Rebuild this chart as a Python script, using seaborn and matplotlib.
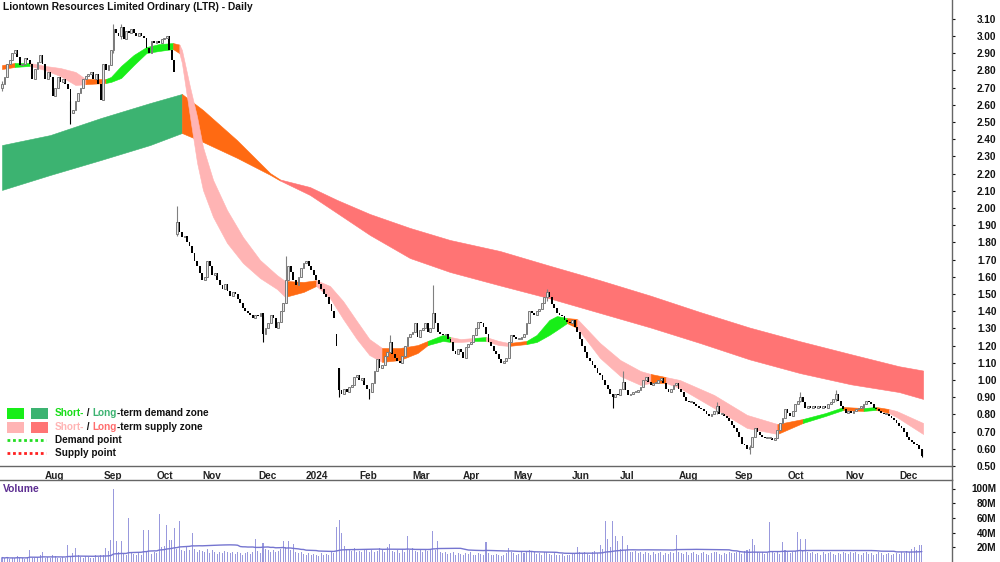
import numpy as np
import pandas as pd
import seaborn as sns
import matplotlib.pyplot as plt
from matplotlib.patches import Rectangle
from matplotlib.lines import Line2D

W, H = 1000, 562

# daily closes, one row per month, Jul 2023 .. Dec 2024
closes = [
    2.72, 2.76, 2.84, 2.86, 2.90, 2.92, 2.88, 2.83, 2.84, 2.87, 2.86, 2.84, 2.75, 2.81, 2.85, 2.89, 2.84,
    2.75, 2.79, 2.76, 2.65, 2.70, 2.76, 2.73, 2.75, 2.72, 2.69, 2.55, 2.57, 2.62, 2.67, 2.70, 2.75, 2.77, 2.78, 2.79, 2.75, 2.78, 2.72, 2.63,
    2.84, 2.80, 2.83, 2.92, 3.04, 3.02, 3.00, 3.05, 2.98, 3.03, 3.02, 3.04, 3.02, 3.00, 3.02, 3.00, 2.99, 2.93, 2.90, 2.97, 2.96,
    2.97, 2.96, 2.98, 2.99, 3.00, 2.92, 2.86, 2.79, 1.92, 1.86, 1.83, 1.84, 1.80, 1.78, 1.74, 1.69, 1.66, 1.62,
    1.58, 1.60, 1.69, 1.66, 1.61, 1.62, 1.58, 1.55, 1.53, 1.56, 1.52, 1.49, 1.51, 1.50, 1.47, 1.45, 1.42, 1.40, 1.39, 1.38, 1.36, 1.38,
    1.37, 1.39, 1.27, 1.30, 1.33, 1.38, 1.36, 1.30, 1.34, 1.40, 1.45, 1.58, 1.66, 1.63, 1.58, 1.55, 1.60, 1.65, 1.68,
    1.69, 1.66, 1.64, 1.61, 1.58, 1.56, 1.53, 1.50, 1.48, 1.44, 1.40, 1.36, 1.20, 0.94, 0.92, 0.95, 0.93, 0.96, 0.97, 1.02, 1.03,
    1.00, 1.01, 0.97, 0.95, 0.93, 0.98, 1.05, 1.12, 1.07, 1.09, 1.14, 1.16, 1.22, 1.15, 1.13, 1.11, 1.10, 1.14, 1.20, 1.25, 1.27,
    1.28, 1.33, 1.25, 1.29, 1.30, 1.33, 1.28, 1.30, 1.39, 1.33, 1.28, 1.27, 1.26, 1.27, 1.24, 1.22, 1.17, 1.15, 1.18, 1.16,
    1.13, 1.19, 1.21, 1.22, 1.26, 1.30, 1.34, 1.33, 1.31, 1.27, 1.22, 1.20, 1.17, 1.15, 1.12, 1.10, 1.11, 1.13, 1.22, 1.26,
    1.25, 1.24, 1.24, 1.25, 1.27, 1.33, 1.40, 1.39, 1.38, 1.40, 1.41, 1.45, 1.48, 1.51, 1.48, 1.44, 1.42, 1.39, 1.38, 1.37, 1.35, 1.34, 1.33,
    1.35, 1.31, 1.28, 1.24, 1.20, 1.16, 1.13, 1.11, 1.09, 1.07, 1.04, 1.03, 1.00, 0.97, 0.95, 0.92, 0.90, 0.92, 0.91,
    0.95, 0.99, 0.94, 0.91, 0.92, 0.93, 0.93, 0.94, 0.96, 1.00, 1.02, 0.99, 0.97, 0.98, 0.98, 1.00, 1.01, 0.98, 0.95, 0.93, 0.95, 0.97, 0.98,
    0.95, 0.93, 0.90, 0.88, 0.87, 0.87, 0.86, 0.85, 0.84, 0.83, 0.82, 0.80, 0.79, 0.80, 0.82, 0.85, 0.80, 0.80, 0.79, 0.78, 0.76, 0.74,
    0.72, 0.70, 0.67, 0.63, 0.62, 0.60, 0.61, 0.67, 0.72, 0.70, 0.68, 0.67, 0.66, 0.66, 0.66, 0.65, 0.66, 0.71, 0.75, 0.78, 0.83,
    0.81, 0.79, 0.82, 0.86, 0.88, 0.90, 0.87, 0.84, 0.85, 0.84, 0.85, 0.84, 0.85, 0.84, 0.85, 0.84, 0.86, 0.87, 0.89, 0.92, 0.88, 0.85, 0.83,
    0.81, 0.82, 0.81, 0.82, 0.83, 0.84, 0.84, 0.86, 0.88, 0.87, 0.86, 0.84, 0.83, 0.82, 0.81, 0.80, 0.80, 0.79, 0.78, 0.77, 0.75,
    0.73, 0.72, 0.70, 0.67, 0.65, 0.64, 0.63, 0.62, 0.60, 0.56,
]
first_open = 2.70
open_gaps = {69: 1.85, 132: 1.27, 133: 1.07}
# visible wicks (low, high)
wicks = {0: (2.68, 2.74), 27: (2.49, 2.62), 44: (2.90, 3.07), 47: (2.98, 3.07), 69: (1.84, 2.01),
         103: (1.22, 1.37), 112: (1.45, 1.72), 133: (0.90, 1.07), 145: (0.89, 0.95), 153: (1.16, 1.26),
         170: (1.30, 1.55), 215: (1.46, 1.53), 241: (0.84, 0.92), 245: (0.95, 1.05), 282: (0.80, 0.87),
         295: (0.57, 0.62), 315: (0.87, 0.93), 329: (0.88, 0.94), 363: (0.55, 0.60)}

# volume in millions, one row per month
volumes = [
    6, 5, 7, 4, 6, 5, 8, 5, 6, 4, 7, 16, 6, 5, 7, 9, 13,
    5, 7, 6, 9, 8, 6, 5, 7, 6, 23, 8, 12, 19, 9, 7, 6, 8, 7, 5, 6, 10, 7, 9,
    10, 19, 15, 30, 100, 29, 14, 28, 12, 10, 60, 14, 11, 9, 12, 10, 43, 13, 43, 11, 14,
    12, 65, 20, 22, 50, 30, 30, 46, 18, 56, 17, 15, 20, 16, 40, 18, 14, 16,
    15, 14, 18, 12, 16, 13, 11, 14, 12, 15, 13, 12, 14, 11, 13, 12, 10, 12, 14, 11, 13, 31,
    15, 12, 26, 18, 16, 14, 17, 13, 15, 18, 29, 20, 29, 16, 25, 14, 12, 13, 11,
    10, 12, 9, 11, 10, 8, 12, 9, 11, 10, 13, 12, 48, 57, 40, 22, 18, 16, 15, 19, 14,
    15, 13, 16, 18, 14, 17, 13, 15, 19, 16, 14, 21, 25, 15, 13, 16, 12, 18, 14, 35, 17,
    19, 15, 14, 16, 13, 18, 15, 16, 42, 17, 29, 14, 12, 13, 11, 12, 14, 10, 12, 11,
    10, 12, 11, 13, 10, 9, 12, 11, 10, 27, 12, 10, 9, 11, 10, 8, 10, 12, 19, 14,
    12, 10, 11, 13, 12, 15, 16, 14, 13, 11, 12, 10, 14, 13, 11, 10, 12, 9, 10, 11, 8, 10, 9,
    12, 11, 20, 14, 12, 13, 11, 10, 14, 15, 12, 23, 18, 56, 31, 20, 56, 35, 29,
    18, 35, 16, 23, 14, 13, 15, 12, 14, 11, 13, 12, 10, 14, 11, 12, 13, 10, 12, 11, 13, 12, 37,
    14, 12, 11, 13, 10, 12, 14, 11, 10, 12, 13, 11, 9, 12, 14, 13, 11, 10, 12, 11, 13, 12,
    12, 14, 13, 11, 15, 16, 18, 31, 23, 14, 12, 13, 11, 12, 54, 13, 12, 14, 11, 27, 16,
    14, 12, 13, 15, 41, 31, 16, 31, 14, 12, 13, 11, 12, 10, 13, 11, 12, 14, 11, 10, 12, 11, 13,
    12, 11, 13, 12, 14, 11, 10, 12, 13, 11, 12, 10, 11, 13, 12, 10, 11, 12, 10, 11, 12,
    11, 13, 12, 15, 14, 18, 20, 17, 23, 23,
]

holidays = ['2023-12-25', '2023-12-26', '2024-01-01', '2024-01-26', '2024-03-29',
            '2024-04-01', '2024-04-25', '2024-06-10']
halt_days = ['2023-10-12', '2023-10-13', '2023-10-16', '2023-10-17']

# short-term zone: bar index, lower, upper, state of segment to the right
short_x = [0, 5, 11, 17, 23, 29, 33, 41, 43, 47, 52, 57, 62, 67.5, 70, 71, 74.2, 77, 79.3, 83.3,
           88.8, 95.1, 101.8, 108.5, 111.7, 119, 124, 129.4, 134.6, 140, 145, 150, 157, 164, 168,
           174, 177, 181, 186, 191, 196, 200, 207, 211, 216, 219, 223, 227, 236, 244, 252, 256, 262,
           267.5, 281, 294, 306, 316, 325, 332, 340, 345, 350, 353, 363.5]
short_lo = [2.808, 2.820, 2.826, 2.802, 2.767, 2.715, 2.720, 2.727, 2.733, 2.756, 2.831, 2.901, 2.913,
            2.924, 2.90, 2.843, 2.529, 2.262, 2.105, 1.948, 1.797, 1.680, 1.593, 1.529, 1.483, 1.512,
            1.547, 1.477, 1.355, 1.238, 1.145, 1.105, 1.116, 1.157, 1.203, 1.227, 1.221, 1.221, 1.227,
            1.227, 1.203, 1.198, 1.209, 1.221, 1.262, 1.291, 1.331, 1.302, 1.128, 1.023, 0.971, 0.983,
            0.983, 0.953, 0.837, 0.721, 0.686, 0.750, 0.791, 0.826, 0.820, 0.826, 0.808, 0.785, 0.686]
short_hi = [2.831, 2.843, 2.843, 2.826, 2.814, 2.791, 2.750, 2.750, 2.762, 2.826, 2.890, 2.936, 2.953,
            2.959, 2.95, 2.919, 2.703, 2.529, 2.355, 2.163, 1.988, 1.831, 1.698, 1.610, 1.576, 1.570,
            1.58, 1.547, 1.459, 1.343, 1.238, 1.186, 1.186, 1.203, 1.227, 1.262, 1.250, 1.238, 1.244,
            1.250, 1.227, 1.215, 1.227, 1.262, 1.349, 1.372, 1.36, 1.355, 1.215, 1.116, 1.052, 1.035,
            1.017, 1.0, 0.913, 0.797, 0.744, 0.773, 0.808, 0.843, 0.837, 0.843, 0.831, 0.820, 0.75]
short_state = list('ogpppp' 'o' 'gggggg' 'o' 'pppppppppp' 'oo' 'ppppp' 'ooo' 'gg' 'pp' 'g' 'pp' 'o'
                   'gggg' 'o' 'pppp' 'o' 'pppp' 'o' 'gg' 'o' 'g' 'o' 'ppp')

# long-term zone
long_x = [0, 19, 39, 58.4, 71, 79.3, 92.7, 105.8, 109.7, 121.5, 132.2, 145.2, 161, 176.8, 196.5,
          216, 236, 256, 275.5, 295, 315, 335, 354, 363.5]
long_lo = [2.105, 2.192, 2.279, 2.366, 2.436, 2.384, 2.292, 2.193, 2.160, 2.076, 1.971, 1.843, 1.709,
           1.628, 1.55, 1.475, 1.39, 1.305, 1.215, 1.12, 1.04, 0.975, 0.930, 0.890]
long_hi = [2.366, 2.424, 2.523, 2.610, 2.663, 2.570, 2.395, 2.203, 2.166, 2.122, 2.047, 1.965, 1.884,
           1.814, 1.75, 1.665, 1.58, 1.49, 1.395, 1.305, 1.225, 1.15, 1.08, 1.055]
long_state = list('GGGG' 'OOOO' 'RRRRRRRRRRRRRRRR')

zone_colors = {'g': '#18ee18', 'p': '#ffb4b4', 'o': '#ff6a12',
               'G': '#3cb371', 'R': '#ff7474', 'O': '#ff6a12'}


def fx(px):
    return px / W


def fy(py):
    return 1 - py / H


def draw_zone(ax, xs, lo, hi, state):
    xs, lo, hi = np.array(xs), np.array(lo), np.array(hi)
    start = 0
    for i in range(1, len(xs)):
        if i == len(xs) - 1 or state[i] != state[start]:
            seg = slice(start, i + 1)
            col = zone_colors[state[start]]
            ax.fill_between(xs[seg], lo[seg], hi[seg], color=col, lw=0.4, zorder=1)
            start = i


sns.set_theme(style='white')
plt.rcParams['font.family'] = ['Liberation Sans', 'DejaVu Sans']
plt.rcParams['font.weight'] = 'bold'
FS = 7.2

dates = pd.bdate_range('2023-07-07', '2024-12-13')
dates = dates.drop(pd.to_datetime(holidays + halt_days))
n = len(closes)
x = np.arange(n)
c = np.array(closes)
o = np.r_[first_open, c[:-1]]
for i, v in open_gaps.items():
    o[i] = v
up = c >= o

fig = plt.figure(figsize=(W / 100, H / 100), dpi=100)
ax = fig.add_axes([0, fy(466), fx(952), fy(0) - fy(466)])
axv = fig.add_axes([0, 0, fx(952), fy(480)])

draw_zone(ax, long_x, long_lo, long_hi, long_state)
draw_zone(ax, short_x, short_lo, short_hi, short_state)

for i, (lo, hi) in wicks.items():
    ax.vlines(i, lo, hi, color='black' if not up[i] else '#808080', lw=0.8, zorder=2)
body_lo = np.minimum(o, c)
body_h = np.maximum(np.abs(c - o), 0.006)
ax.bar(x[~up], body_h[~up], bottom=body_lo[~up], width=0.72, color='black', lw=0, zorder=3)
ax.bar(x[up], body_h[up], bottom=body_lo[up], width=0.72, facecolor='#e8e8e8',
       edgecolor='#7a7a7a', lw=0.7, zorder=3)

xmin, xmax = -2 / 2.534, 950 / 2.534
ax.set_xlim(xmin, xmax)
ax.set_ylim(0.5, 0.5 + 466 / 172)

# month ticks at first trading day of each month
ser = pd.Series(x, index=dates)
firsts = ser.groupby([dates.year, dates.month]).first().iloc[1:]
tick_pos = firsts.values
tick_lab = ['2024' if m == 1 else pd.Timestamp(year=y, month=m, day=1).strftime('%b')
            for y, m in firsts.index]
ax.set_xticks(tick_pos)
ax.set_xticklabels(tick_lab, ha='left', fontsize=FS, fontweight='bold')
ax.tick_params(axis='x', direction='out', length=2.5, width=0.8, pad=1, colors='#222222')

yt = np.round(np.arange(0.5, 3.101, 0.1), 2)
ax.yaxis.tick_right()
ax.set_yticks(yt)
ax.set_yticklabels([f'{v:.2f}' for v in yt], fontsize=FS, fontweight='bold')
for lab in ax.get_yticklabels():
    lab.set_horizontalalignment('right')
ax.tick_params(axis='y', direction='out', length=2, width=0.8, pad=30, colors='#111111')

for s in ['top', 'left']:
    ax.spines[s].set_visible(False)
for s in ['right', 'bottom']:
    ax.spines[s].set_color('#666666')
    ax.spines[s].set_linewidth(1)
ax.grid(False)

# volume panel
vol = pd.Series(volumes, dtype=float)
vol_ma = vol.rolling(50, min_periods=1).mean()
axv.bar(x, vol, width=0.4, color='#9999dd', lw=0)
sns.lineplot(x=x, y=vol_ma.values, ax=axv, color='#7575d0', lw=1)
axv.set_xlim(xmin, xmax)
axv.set_ylim(0, (562 - 480) / 14.7 * 20)
axv.set_xticks([])
axv.yaxis.tick_right()
vt = [20, 40, 60, 80, 100]
axv.set_yticks(vt)
axv.set_yticklabels([f'{v}M' for v in vt], fontsize=FS, fontweight='bold')
for lab in axv.get_yticklabels():
    lab.set_horizontalalignment('right')
axv.tick_params(axis='y', direction='out', length=2, width=0.8, pad=30, colors='#111111')
for s in ['bottom', 'left']:
    axv.spines[s].set_visible(False)
for s in ['top', 'right']:
    axv.spines[s].set_color('#666666')
    axv.spines[s].set_linewidth(1)
axv.set_ylabel('')
axv.grid(False)

fig.add_artist(Line2D([fx(952), fx(952)], [fy(466), fy(480)], color='#666666', lw=1))

fig.text(fx(3), fy(7), 'Liontown Resources Limited Ordinary (LTR) - Daily',
         fontsize=FS + 0.2, fontweight='bold', va='center', color='#111111')
fig.text(fx(3), fy(489), 'Volume', fontsize=FS + 0.2, fontweight='bold', va='center', color='#5c2d91')

# legend
for (px, py, col) in [(7, 408, '#18ee18'), (31, 408, '#3cb371'), (7, 422, '#ffb4b4'), (31, 422, '#ff7474')]:
    fig.add_artist(Rectangle((fx(px), fy(py + 11)), fx(17), 11 / H, transform=fig.transFigure,
                             color=col, lw=0))
fig.add_artist(Line2D([fx(7), fx(46)], [fy(440), fy(440)], color='#22dd22', lw=2, ls=(0, (1, 1))))
fig.add_artist(Line2D([fx(7), fx(46)], [fy(453), fy(453)], color='#ff2020', lw=2, ls=(0, (1, 1))))


def chain(py, parts):
    t = fig.text(fx(55), fy(py), parts[0][0], color=parts[0][1], fontsize=FS,
                 fontweight='bold', va='center')
    for s, col in parts[1:]:
        t = ax.annotate(s, xy=(1, 0.5), xycoords=t, va='center', ha='left', color=col,
                        fontsize=FS, fontweight='bold', annotation_clip=False)


chain(413, [('Short-', '#18dd18'), (' / ', '#111111'), ('Long', '#3cb371'),
            ('-term demand zone', '#111111')])
chain(427, [('Short-', '#ffb4b4'), (' / ', '#111111'), ('Long', '#ff6d6d'),
            ('-term supply zone', '#111111')])
chain(440, [('Demand point', '#111111')])
chain(453, [('Supply point', '#111111')])

fig.savefig('out.png', dpi=100)
